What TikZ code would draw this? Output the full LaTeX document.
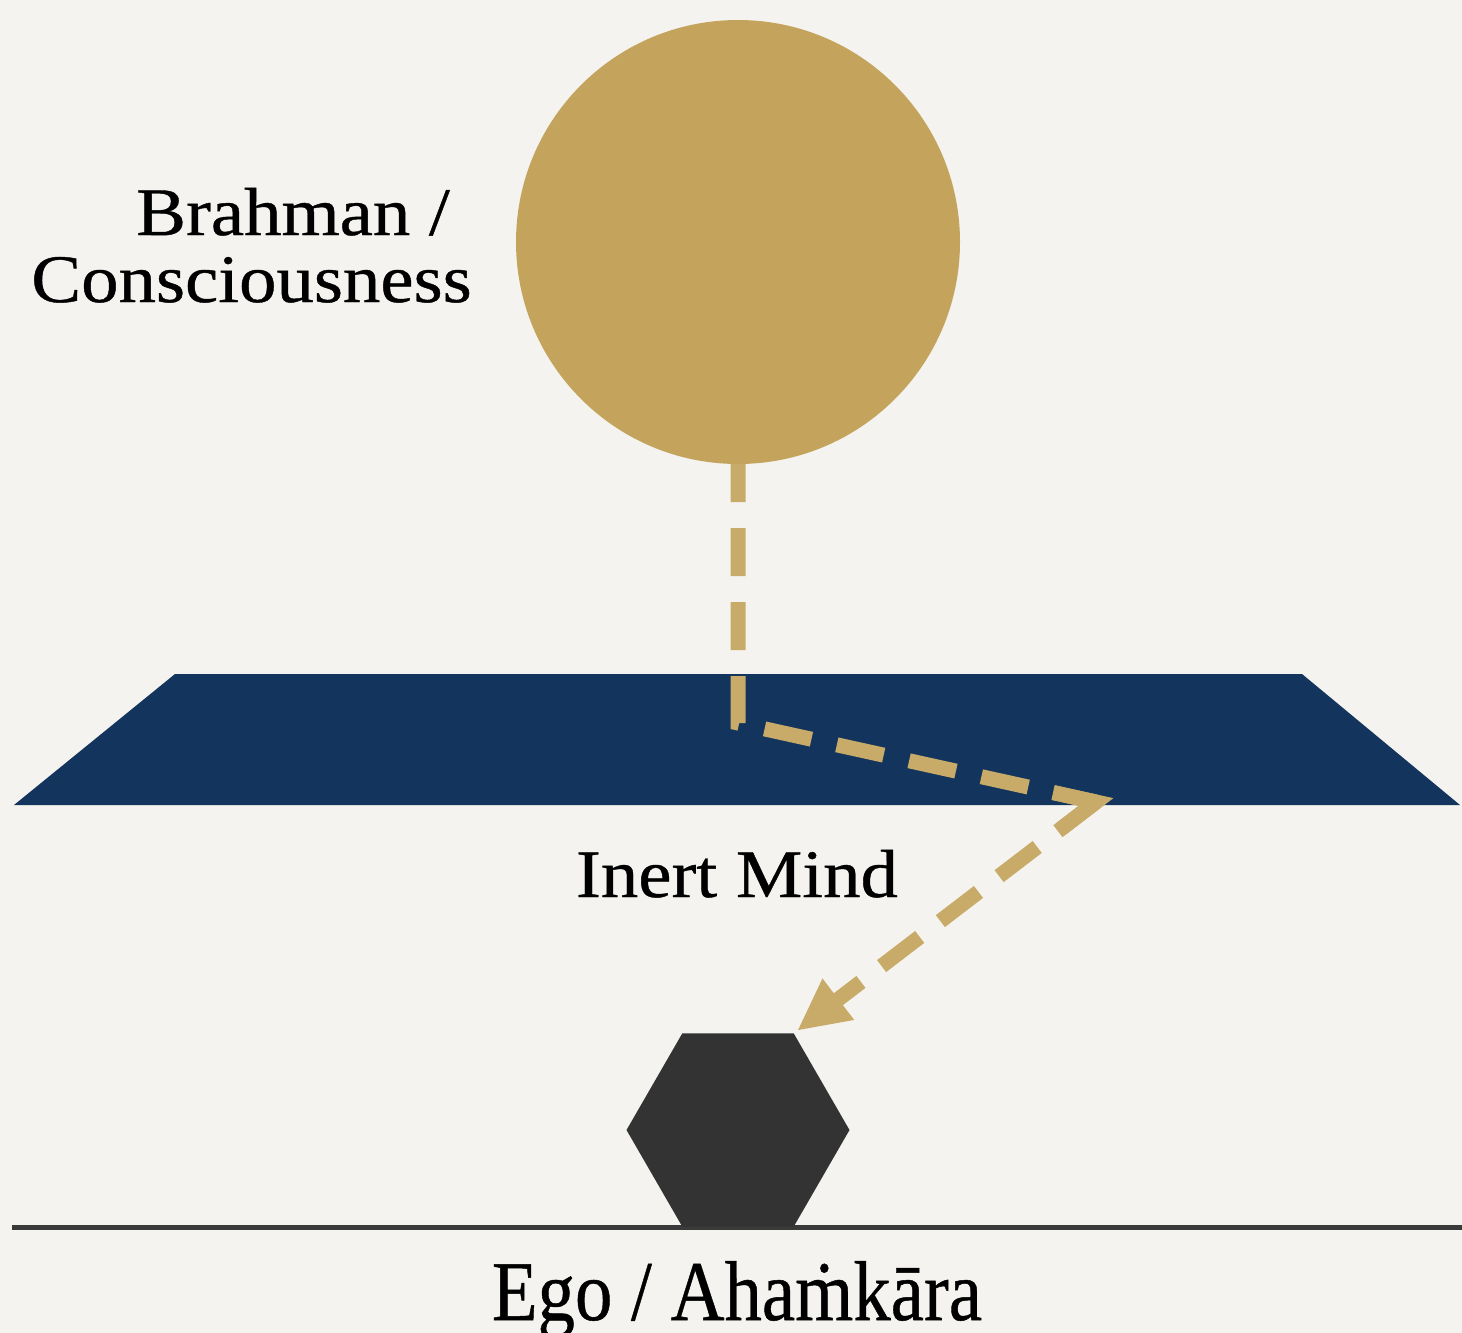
\documentclass[tikz,border=0pt]{standalone}
\usepackage{fontspec}
\usepackage{graphicx}
\setmainfont{Liberation Serif}
\newfontfamily\lblfont[FakeStretch=1.1,FakeBold=0.6]{Liberation Serif}
\usetikzlibrary{arrows.meta,shapes.geometric,calc}
\definecolor{bgc}{HTML}{F4F3EF}
\definecolor{goldc}{HTML}{C4A45C}
\definecolor{dashc}{HTML}{C8AB68}
\definecolor{navyc}{HTML}{13345D}
\definecolor{hexc}{HTML}{333333}
\definecolor{groundc}{HTML}{3A3A3A}
\tikzset{
  lbl/.style={inner sep=0pt,font=\lblfont\fontsize{68}{80}\selectfont,text=black},
  ray/.style={draw=dashc,line width=15pt,dash pattern=on 48pt off 26pt},
  chev/.style={draw=dashc,line width=15pt,line join=miter,miter limit=10},
}
\begin{document}
\begin{tikzpicture}[x=1pt,y=-1pt]
\fill[bgc] (0,0) rectangle (1462,1333);
\useasboundingbox (0,0) rectangle (1462,1333);
% mind plane
\fill[navyc] (175,674) -- (1302,674) -- (1460,805) -- (14,805) -- cycle;
% ground
\draw[groundc,line width=5pt] (12,1227) -- (1462,1227);
% nodes
\node[regular polygon,regular polygon sides=6,minimum size=223pt,inner sep=0pt,fill=hexc] (hex) at (738,1130) {};
\node[circle,minimum size=444pt,inner sep=0pt,fill=goldc] (sun) at (738,242) {};
\coordinate (bend) at (738,723);
\coordinate (refl) at (1096,802);
% connectors
\draw[ray,dash phase=10pt] (sun.south) -- (bend) -- (refl);
\draw[ray,-{Triangle[length=52pt,width=48pt]},shorten >=4pt] (refl) -- (hex.60);
\draw[chev] ($(refl)!44pt!(bend)$) -- (refl) -- ($(refl)!44pt!(hex.60)$);
% labels
\node[lbl,anchor=base east] (brahman) at (450,235) {Brahman /};
\node[lbl,anchor=base east] (consc) at (472,302) {Consciousness};
\node[lbl,anchor=base] (mind) at (737,897) {Inert Mind};
\node[lbl,anchor=base] (ego) at (737,1320) {\scalebox{1}[1.25]{Ego / Ahaṁkāra}};
\end{tikzpicture}
\end{document}
